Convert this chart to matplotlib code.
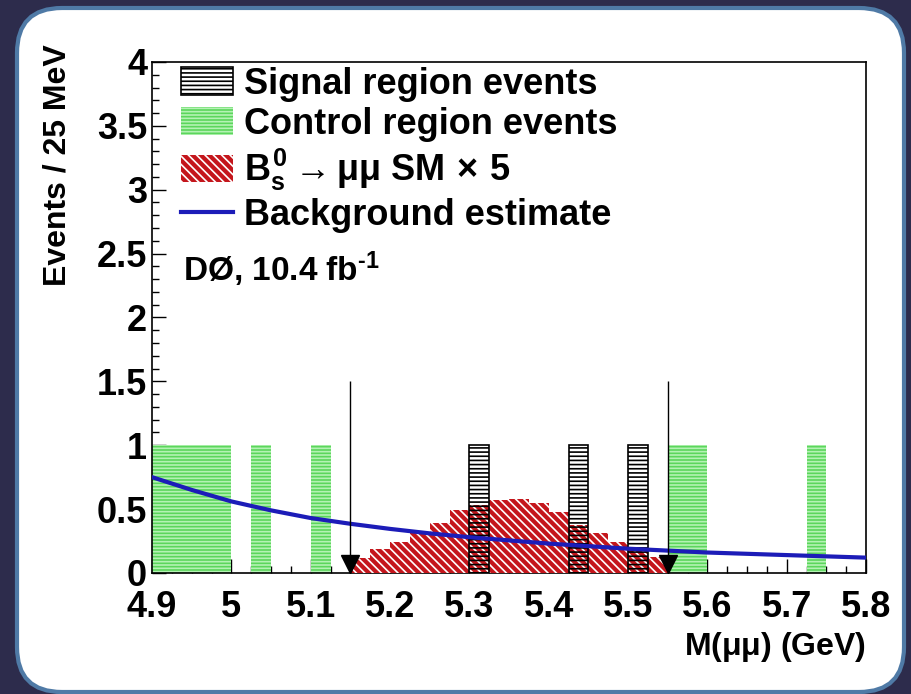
import matplotlib
matplotlib.use('Agg')
import matplotlib.pyplot as plt
import matplotlib.transforms as mtransforms
from matplotlib.patches import FancyBboxPatch
from matplotlib.ticker import MultipleLocator
import numpy as np

# control region events (lower bin edges, 25 MeV bins)
control_lo = [4.9, 4.925, 4.95, 4.975, 5.025, 5.1, 5.55, 5.575, 5.725]
control_n = [1, 1, 1, 1, 1, 1, 1, 1, 1]

# signal region events
signal_lo = [5.3, 5.425, 5.5]
signal_n = [1, 1, 1]

# Bs -> mumu SM x 5 expectation, 5.15 - 5.55 GeV
bs_edges = np.arange(5.15, 5.5501, 0.025)
bs_vals = [0.12, 0.19, 0.245, 0.31, 0.39, 0.49, 0.53, 0.57,
           0.58, 0.55, 0.48, 0.375, 0.31, 0.245, 0.195, 0.125]

# background estimate
bkg_x = [4.9, 4.95, 5.0, 5.05, 5.1, 5.15, 5.2, 5.25, 5.3, 5.35,
         5.4, 5.45, 5.5, 5.55, 5.6, 5.65, 5.7, 5.75, 5.8]
bkg_y = [0.75, 0.65, 0.56, 0.49, 0.43, 0.385, 0.345, 0.31, 0.28, 0.255,
         0.23, 0.21, 0.19, 0.175, 0.16, 0.15, 0.14, 0.13, 0.12]

# signal window
window = [5.15, 5.55]

plt.rcParams['font.family'] = ['Liberation Sans', 'DejaVu Sans']
plt.rcParams['font.weight'] = 'bold'
plt.rcParams['axes.labelweight'] = 'bold'
plt.rcParams['mathtext.fontset'] = 'custom'
plt.rcParams['mathtext.rm'] = 'Liberation Sans:bold'
plt.rcParams['mathtext.it'] = 'Liberation Sans:bold'
plt.rcParams['mathtext.bf'] = 'Liberation Sans:bold'
plt.rcParams['hatch.linewidth'] = 1.2

fig = plt.figure(figsize=(9.12, 6.94), dpi=100, facecolor='#2d2c4c')

# white rounded panel
panel = FancyBboxPatch((17, 2), 887, 684, boxstyle='round,pad=0,rounding_size=45',
                       transform=mtransforms.IdentityTransform(),
                       facecolor='white', edgecolor='#4f7aa6', linewidth=3,
                       zorder=-10)
fig.patches.append(panel)

ax = fig.add_axes([0.1667, 0.1744, 0.7829, 0.7363])
ax.set_facecolor('none')

h_ctrl = ax.bar(control_lo, control_n, width=0.025, align='edge', facecolor='#5cd65c',
                edgecolor='#b4f2b4', hatch='-----', linewidth=0, zorder=2)
h_bs = ax.stairs(bs_vals, bs_edges, fill=True, facecolor='#c4161c', edgecolor='white',
                 hatch='\\\\\\\\', linewidth=0, zorder=3)
h_sig = ax.bar(signal_lo, signal_n, width=0.025, align='edge', fill=False,
               edgecolor='black', hatch='----', linewidth=1.2, zorder=4)
h_bkg, = ax.plot(bkg_x, bkg_y, color='#1c1cb8', lw=3, zorder=5)

ax.vlines(window, 0, 1.5, color='black', lw=1, zorder=6)
ax.plot(window, [0.07, 0.07], 'v', color='black', ms=13, zorder=7, clip_on=False)

ax.set_xlim(4.9, 5.8)
ax.set_ylim(0, 4)
ax.xaxis.set_minor_locator(MultipleLocator(0.025))
ax.yaxis.set_minor_locator(MultipleLocator(0.1))
ax.set_xticks(np.arange(4.9, 5.81, 0.1))
ax.set_xticklabels(['4.9', '5', '5.1', '5.2', '5.3', '5.4', '5.5', '5.6', '5.7', '5.8'])
ax.set_yticks(np.arange(0, 4.01, 0.5))
ax.set_yticklabels(['0', '0.5', '1', '1.5', '2', '2.5', '3', '3.5', '4'])
ax.tick_params(which='both', direction='in', top=False, right=False,
               labelsize=26, width=1)
ax.tick_params(which='major', length=10)
ax.tick_params(which='minor', length=5)
ax.tick_params(axis='x', pad=12)
for s in ax.spines.values():
    s.set_linewidth(1.2)

ax.set_ylabel('Events / 25 MeV', fontsize=23, loc='top')
ax.yaxis.set_label_coords(-0.112, 1.035)
ax.set_xlabel(r'M($\mu\mu$) (GeV)', fontsize=23, loc='right')
ax.xaxis.set_label_coords(1.0, -0.112)

ax.legend([h_sig, h_ctrl, h_bs, h_bkg],
          ['Signal region events', 'Control region events',
           r'$B_s^0 \rightarrow \mu\mu$ SM$\,\times\,$5', 'Background estimate'],
          loc='upper left', bbox_to_anchor=(0.035, 0.998), frameon=False, fontsize=26,
          handlelength=1.45, handleheight=0.8, handletextpad=0.3,
          labelspacing=0.14, borderaxespad=0, borderpad=0.1)

ax.text(0.043, 0.595, r'DØ, 10.4 fb$^{\text{-1}}$', transform=ax.transAxes,
        fontsize=24, va='center', ha='left')

fig.savefig('out.png', dpi=100, facecolor=fig.get_facecolor())
